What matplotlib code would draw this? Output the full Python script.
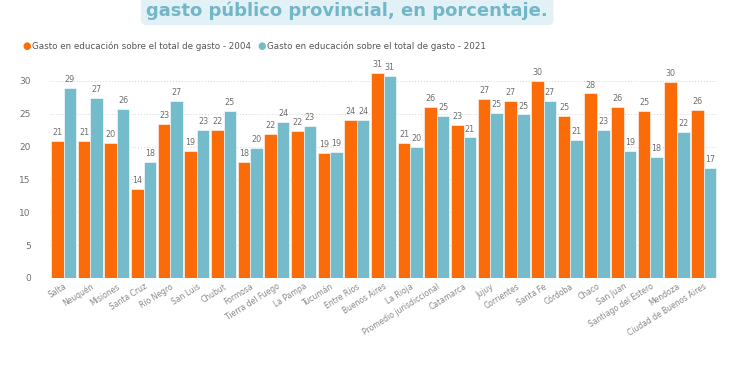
import numpy as np
import matplotlib
matplotlib.use("Agg")
import matplotlib.pyplot as plt

# Data (percent of total provincial spending)
provinces = [
    "Salta", "Neuquén", "Misiones", "Santa Cruz", "Río Negro", "San Luis",
    "Chubut", "Formosa", "Tierra del Fuego", "La Pampa", "Tucumán",
    "Entre Ríos", "Buenos Aires", "La Rioja", "Promedio jurisdiccional",
    "Catamarca", "Jujuy", "Corrientes", "Santa Fe", "Córdoba", "Chaco",
    "San Juan", "Santiago del Estero", "Mendoza", "Ciudad de Buenos Aires",
]
gasto_2004 = [20.8, 20.8, 20.5, 13.6, 23.4, 19.4, 22.5, 17.7, 21.9, 22.4,
              19.0, 24.0, 31.2, 20.6, 26.1, 23.3, 27.2, 27.0, 30.0, 24.7,
              28.1, 26.0, 25.4, 29.8, 25.6]
gasto_2021 = [28.9, 27.4, 25.8, 17.7, 27.0, 22.6, 25.4, 19.8, 23.7, 23.1,
              19.2, 24.1, 30.8, 20.0, 24.7, 21.4, 25.2, 24.9, 27.0, 21.0,
              22.6, 19.4, 18.4, 22.3, 16.8]
y_ticks = [0, 5, 10, 15, 20, 25, 30]

label_2004 = "Gasto en educación sobre el total de gasto - 2004"
label_2021 = "Gasto en educación sobre el total de gasto - 2021"
title = "gasto público provincial, en porcentaje."

ORANGE = "#fb6b07"
BLUE = "#74bccb"
GRAY = "#6f6f6f"

plt.rcParams["font.family"] = ["DejaVu Sans"]

fig = plt.figure(figsize=(7.5, 3.75), dpi=100)
ax = fig.add_axes([0.067, 0.259, 0.889, 0.56])

x = np.arange(len(provinces))
w = 0.47
b1 = ax.bar(x - w / 2, gasto_2004, width=w, color=ORANGE, edgecolor="white", linewidth=0.4)
b2 = ax.bar(x + w / 2, gasto_2021, width=w, color=BLUE, edgecolor="white", linewidth=0.4)

for bars, vals in ((b1, gasto_2004), (b2, gasto_2021)):
    for rect, v in zip(bars, vals):
        ax.text(rect.get_x() + rect.get_width() / 2, v + 0.6, f"{v:.0f}",
                ha="center", va="bottom", fontsize=5.8, color=GRAY)

ax.set_xlim(-0.5, len(provinces) - 0.5)
ax.set_ylim(0, 32)
ax.set_yticks(y_ticks)
ax.set_xticks(x)
ax.set_xticklabels(provinces, rotation=32, ha="right", rotation_mode="anchor",
                   fontsize=5.5, color="#888888")
ax.tick_params(axis="y", labelsize=6.5, labelcolor=GRAY, length=0, pad=14)
ax.tick_params(axis="x", length=0, pad=3)
ax.yaxis.grid(True, linestyle=(0, (1, 2)), color="#d5d5d5", linewidth=0.7)
ax.set_axisbelow(True)
for s in ax.spines.values():
    s.set_visible(False)

# Legend row with coloured dots
fig.text(0.03, 0.877, "●", color=ORANGE, fontsize=7, va="center")
fig.text(0.043, 0.877, label_2004, color="#555555", fontsize=6.3, va="center")
fig.text(0.343, 0.877, "●", color=BLUE, fontsize=7, va="center")
fig.text(0.356, 0.877, label_2021, color="#555555", fontsize=6.3, va="center")

# Title strip at the top of the image
fig.text(0.463, 0.972, title, ha="center", va="center", fontsize=13,
         fontweight="bold", color="#72b6c9",
         bbox=dict(boxstyle="round,pad=0.3", facecolor="#e2f1f6", edgecolor="none"))

fig.savefig("out.png", dpi=100)
